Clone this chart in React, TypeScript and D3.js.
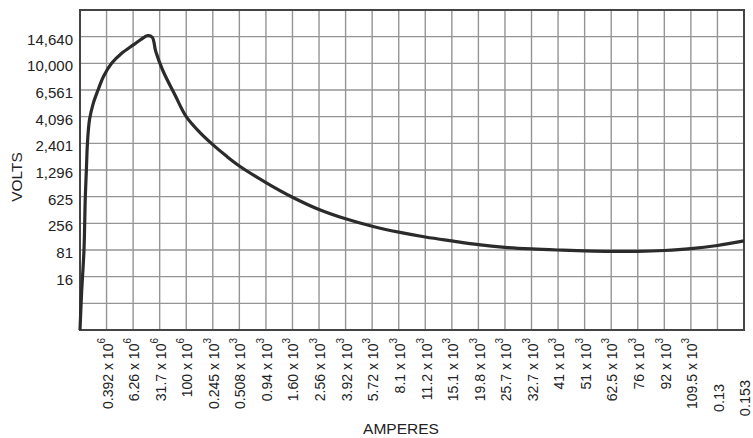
import React from "react";
import * as d3 from "d3";

// Tick labels (fourth-root scales on both axes)
const voltTicks = [16, 81, 256, 625, 1296, 2401, 4096, 6561, 10000, 14640];
const ampTickValues = [
  0.392e-6, 6.26e-6, 31.7e-6, 100e-6, 0.245e-3, 0.508e-3, 0.94e-3, 1.6e-3,
  2.56e-3, 3.92e-3, 5.72e-3, 8.1e-3, 11.2e-3, 15.1e-3, 19.8e-3, 25.7e-3,
  32.7e-3, 41e-3, 51e-3, 62.5e-3, 76e-3, 92e-3, 109.5e-3, 0.13, 0.153,
];
const ampTickMantissa = [
  "0.392", "6.26", "31.7", "100", "0.245", "0.508", "0.94", "1.60", "2.56",
  "3.92", "5.72", "8.1", "11.2", "15.1", "19.8", "25.7", "32.7", "41", "51",
  "62.5", "76", "92", "109.5", "0.13", "0.153",
];
const ampTickExponent = [
  "6", "6", "6", "6", "3", "3", "3", "3", "3", "3", "3", "3", "3", "3", "3",
  "3", "3", "3", "3", "3", "3", "3", "3", "", "",
];

// Curve: amperes vs volts
const amps = [
  0, 5.06e-12, 1.98e-10, 6.25e-10, 1.3e-9, 2.4e-9, 6.56e-9, 2.44e-8, 8.35e-8,
  2.34e-7, 7.83e-7, 2.31e-6, 6.5e-6, 1.093e-5, 1.652e-5, 2.138e-5, 2.577e-5,
  3.654e-5, 6.561e-5, 1.0e-4, 1.602e-4, 2.441e-4, 3.574e-4, 5.063e-4,
  9.379e-4, 1.6e-3, 2.563e-3, 3.906e-3, 5.719e-3, 8.1e-3, 11.157e-3,
  15.006e-3, 19.775e-3, 25.6e-3, 32.625e-3, 41.006e-3, 50.907e-3, 62.5e-3,
  75.969e-3, 91.506e-3, 109.313e-3, 129.6e-3, 152.588e-3,
];
const volts = [
  0, 3.73, 81, 625, 1296, 2401, 3895, 5220, 6561, 8145, 10000, 11565, 13108,
  14116, 14855, 14535, 11925, 9037, 5900, 4096, 3031, 2333, 1818, 1431, 935,
  615, 417, 302, 229, 181, 148, 124.4, 104.9, 92.4, 85.4, 81, 77.8, 75.7, 75.7,
  78.9, 86.5, 101, 124.4,
];

const W = 753;
const H = 438;
const left = 80;
const right = 744;
const top = 10;
const bottom = 330;
const FONT = "'Liberation Sans', Arial, sans-serif";

export default function App() {
  const xMax = Math.pow(0.625, 4);
  const yMax = Math.pow(12, 4);
  const x = d3.scalePow().exponent(0.25).domain([0, xMax]).range([left, right]);
  const y = d3.scalePow().exponent(0.25).domain([0, yMax]).range([bottom, top]);

  const xGrid = d3.range(0, 26).map((k) => Math.pow(0.025 * k, 4));
  const yGrid = d3.range(0, 13).map((j) => Math.pow(j, 4));

  const pts: [number, number][] = amps.map((a, i) => [x(a), y(volts[i])]);
  const line = d3.line().curve(d3.curveCatmullRom.alpha(0.5))(pts) || "";

  return (
    <svg
      width={W}
      height={H}
      style={{ position: "absolute", left: 0, top: 0, background: "#fff" }}
      fontFamily={FONT}
    >
      <rect x={0} y={0} width={W} height={H} fill="#fff" />
      {xGrid.map((v, i) => (
        <line
          key={"xg" + i}
          x1={x(v)}
          x2={x(v)}
          y1={top}
          y2={bottom}
          stroke="#959595"
          strokeWidth={1.4}
        />
      ))}
      {yGrid.map((v, i) => (
        <line
          key={"yg" + i}
          x1={left}
          x2={right}
          y1={y(v)}
          y2={y(v)}
          stroke="#959595"
          strokeWidth={1.4}
        />
      ))}
      <rect
        x={left}
        y={top}
        width={right - left}
        height={bottom - top}
        fill="none"
        stroke="#444"
        strokeWidth={2}
      />
      <path d={line} fill="none" stroke="#2b2b2b" strokeWidth={3.2} strokeLinejoin="round" />

      {voltTicks.map((v, i) => (
        <text
          key={"yt" + i}
          x={73}
          y={y(v) + 4}
          textAnchor="end"
          dominantBaseline="middle"
          fontSize={15}
          fill="#222"
        >
          {d3.format(",")(v)}
        </text>
      ))}
      <text
        transform={`translate(22, 177) rotate(-90)`}
        textAnchor="middle"
        fontSize={15.5}
        fill="#222"
      >
        VOLTS
      </text>

      {ampTickValues.map((v, i) => {
        const hasExp = ampTickExponent[i] !== "";
        const px = x(v) + 6;
        return hasExp ? (
          <text
            key={"xt" + i}
            transform={`translate(${px}, 338) rotate(-90)`}
            textAnchor="end"
            fontSize={14}
            fill="#222"
          >
            {ampTickMantissa[i] + " x 10"}
            <tspan dy={-8} fontSize={10}>
              {ampTickExponent[i]}
            </tspan>
          </text>
        ) : (
          <text
            key={"xt" + i}
            transform={`translate(${px}, 398) rotate(-90)`}
            textAnchor="middle"
            fontSize={14.5}
            fill="#222"
          >
            {ampTickMantissa[i]}
          </text>
        );
      })}
      <text x={401} y={434} textAnchor="middle" fontSize={15.5} fill="#222">
        AMPERES
      </text>
    </svg>
  );
}
